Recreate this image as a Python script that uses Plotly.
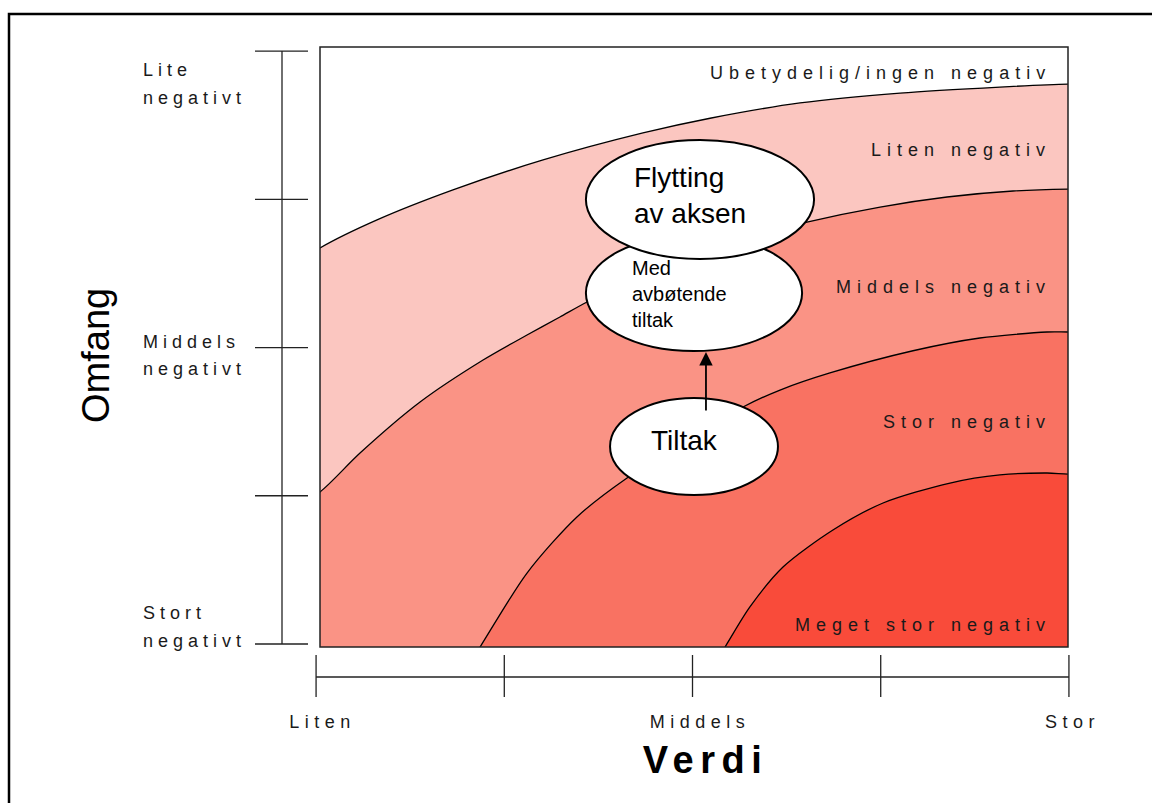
import numpy as np
import plotly.graph_objects as go

# ---------------- data ----------------
verdi_labels = ["Liten", "", "Middels", "", "Stor"]
omfang_labels = ["Stort<br>negativt", "", "Middels<br>negativt", "", "Lite<br>negativt"]
band_names = ["Ubetydelig/ingen negativ", "Liten negativ", "Middels negativ",
              "Stor negativ", "Meget stor negativ"]
band_colors = ["#FFFFFF", "#FBC6C0", "#FA9385", "#F97262", "#F94B3A"]

# boundary curves (x: Verdi 0..4, y: Omfang 0..4)
b1_x = [0.0, 0.305, 0.711, 1.193, 1.727, 2.086, 2.567, 3.102, 3.636, 4.0]
b1_y = [2.66, 2.847, 3.047, 3.247, 3.427, 3.525, 3.627, 3.693, 3.733, 3.753]
b2_x = [0.0, 0.214, 0.535, 0.872, 1.107, 1.283, 1.428, 1.8, 2.2, 2.604, 2.995, 3.353, 3.706, 4.0]
b2_y = [1.033, 1.293, 1.633, 1.913, 2.08, 2.2, 2.3, 2.52, 2.70, 2.833, 2.933, 3.0, 3.04, 3.053]
b3_x = [0.856, 1.107, 1.374, 1.642, 1.952, 2.262, 2.46, 2.727, 3.171, 3.529, 3.888, 4.0]
b3_y = [0.0, 0.493, 0.867, 1.127, 1.367, 1.6, 1.713, 1.827, 1.975, 2.06, 2.1, 2.1]
b4_x = [2.166, 2.299, 2.476, 2.743, 3.011, 3.369, 3.636, 3.888, 4.0]
b4_y = [0.0, 0.267, 0.533, 0.78, 0.96, 1.093, 1.147, 1.16, 1.153]

# ellipses in value units
ellipse_tiltak = dict(x0=1.551, x1=2.449, y0=1.013, y1=1.66)
ellipse_med = dict(x0=1.422, x1=2.578, y0=1.973, y1=2.747)
ellipse_flytt = dict(x0=1.422, x1=2.642, y0=2.587, y1=3.38)
arrow_x = 2.064
arrow_from_y = 1.567
arrow_to_y = 1.967

# ---------------- layout constants ----------------
W, H = 1152, 803
BL, BR, BT, BB = 320, 1068, 47, 647
FONT = "Liberation Sans, Arial, Helvetica, sans-serif"


def px_x(px):
    return (px - BL) / (BR - BL)


def px_y(py):
    return (BB - py) / (BB - BT)


fig = go.Figure()

# bands
curves = [(b1_x, b1_y, True), (b2_x, b2_y, True), (b3_x, b3_y, False), (b4_x, b4_y, False)]
for i, (cx, cy, from_left) in enumerate(curves):
    if from_left:
        xs = [-0.3] + list(cx) + [4.3, 4.3, -0.3]
        ys = [cy[0] - 0.25] + list(cy) + [cy[-1], -0.6, -0.6]
    else:
        xs = [cx[0] - 0.15] + list(cx) + [4.3, 4.3, cx[0] - 0.4]
        ys = [-0.3] + list(cy) + [cy[-1], -0.6, -0.6]
    fig.add_trace(go.Scatter(
        x=xs, y=ys, mode="lines", fill="toself",
        fillcolor=band_colors[i + 1],
        line=dict(color="black", width=1.3, shape="spline", smoothing=0.8),
        hoverinfo="skip", showlegend=False))

shapes = []
# plot box
shapes.append(dict(type="rect", xref="paper", yref="paper", x0=0, x1=1, y0=0, y1=1,
                   line=dict(color="#222", width=1.5), fillcolor="rgba(0,0,0,0)", layer="above"))
# outer frame
shapes.append(dict(type="rect", xref="paper", yref="paper",
                   x0=px_x(9), x1=px_x(1170), y0=px_y(820), y1=px_y(14),
                   line=dict(color="black", width=2.5), fillcolor="rgba(0,0,0,0)", layer="above"))

# Omfang scale (left)
y_ticks = np.linspace(0.02, 3.973, len(omfang_labels)) / 4.0
shapes.append(dict(type="line", xref="paper", yref="paper", x0=px_x(282), x1=px_x(282),
                   y0=y_ticks[0], y1=y_ticks[-1], line=dict(color="#222", width=1.3)))
for yt in y_ticks:
    shapes.append(dict(type="line", xref="paper", yref="paper", x0=px_x(255), x1=px_x(308),
                       y0=yt, y1=yt, line=dict(color="#222", width=1.3)))
# Verdi scale (bottom)
x_ticks = np.linspace(-0.021, 4.005, len(verdi_labels)) / 4.0
shapes.append(dict(type="line", xref="paper", yref="paper", x0=x_ticks[0], x1=x_ticks[-1],
                   y0=px_y(677), y1=px_y(677), line=dict(color="#222", width=1.3)))
for xt in x_ticks:
    shapes.append(dict(type="line", xref="paper", yref="paper", x0=xt, x1=xt,
                       y0=px_y(655), y1=px_y(697), line=dict(color="#222", width=1.3)))

# ellipses (order: Tiltak, Med, Flytting on top)
for e in (ellipse_tiltak, ellipse_med, ellipse_flytt):
    shapes.append(dict(type="circle", xref="x", yref="y", fillcolor="white",
                       line=dict(color="black", width=2), layer="above", **e))

annotations = []
spaced = []  # annotation indexes that get letter spacing


def add_ann(spacing=None, **kw):
    if spacing is not None:
        spaced.append((len(annotations), spacing))
    annotations.append(kw)


# band labels (right aligned)
band_label_py = [73, 150, 287, 422, 625]
for name, py in zip(band_names, band_label_py):
    add_ann(spacing=6, text=name, xref="paper", yref="paper", x=px_x(1053), y=px_y(py),
            xanchor="right", yanchor="middle", align="right", showarrow=False,
            font=dict(family=FONT, size=18, color="#1a1a1a"))

# Omfang labels
omfang_line_py = {0: [613, 641], 2: [342, 369], 4: [70, 98]}
for idx, lab in enumerate(omfang_labels):
    if not lab:
        continue
    for line, py in zip(lab.split("<br>"), omfang_line_py[idx]):
        add_ann(spacing=5, text=line, xref="paper", yref="paper", x=px_x(141), y=px_y(py),
                xanchor="left", yanchor="middle", align="left", showarrow=False,
                font=dict(family=FONT, size=18, color="#1a1a1a"))

# Verdi labels
verdi_label_px = [322, 0, 700, 0, 1072]
for idx, lab in enumerate(verdi_labels):
    if not lab:
        continue
    add_ann(spacing=5.5, text=lab, xref="paper", yref="paper", x=px_x(verdi_label_px[idx]), y=px_y(722),
            xanchor="center", yanchor="middle", align="center", showarrow=False,
            font=dict(family=FONT, size=18, color="#1a1a1a"))

# axis titles
add_ann(spacing=6.5, text="<b>Verdi</b>", xref="paper", yref="paper", x=px_x(705), y=px_y(760),
        xanchor="center", yanchor="middle", showarrow=False,
        font=dict(family=FONT, size=38, color="black"))
add_ann(text="Omfang", xref="paper", yref="paper", x=px_x(96), y=px_y(356),
        xanchor="center", yanchor="middle", textangle=-90, showarrow=False,
        font=dict(family=FONT, size=38, color="black"))

# arrow
add_ann(text="", x=arrow_x, y=arrow_to_y, ax=arrow_x, ay=arrow_from_y, xref="x", yref="y",
        axref="x", ayref="y", showarrow=True, arrowhead=2, arrowsize=1.5, arrowwidth=1.8,
        arrowcolor="black")

# ellipse texts
add_ann(text="Tiltak", xref="paper", yref="paper", x=px_x(684), y=px_y(440),
        xanchor="center", yanchor="middle", showarrow=False,
        font=dict(family=FONT, size=28, color="black"))
add_ann(text="Med<br>avbøtende<br>tiltak", xref="paper", yref="paper", x=px_x(630), y=px_y(294),
        xanchor="left", yanchor="middle", align="left", showarrow=False,
        font=dict(family=FONT, size=20, color="black"))
add_ann(text="Flytting<br>av aksen", xref="paper", yref="paper", x=px_x(632), y=px_y(196),
        xanchor="left", yanchor="middle", align="left", showarrow=False,
        font=dict(family=FONT, size=28, color="black"))

fig.update_layout(
    width=W, height=H,
    margin=dict(l=BL, r=W - BR, t=BT, b=H - BB, pad=0),
    paper_bgcolor="white", plot_bgcolor="white",
    xaxis=dict(range=[0, 4], visible=False, fixedrange=True),
    yaxis=dict(range=[0, 4], visible=False, fixedrange=True),
    shapes=shapes, annotations=annotations, showlegend=False,
)

css = "body{margin:0;}" + "".join(
    '.annotation[data-index="%d"] text{letter-spacing:%spx;}' % (i, s) for i, s in spaced)
js = ("var st=document.createElement('style');st.textContent=%r;"
      "document.head.appendChild(st);") % css

fig.write_html("out.html", post_script=js, config={"displayModeBar": False})
